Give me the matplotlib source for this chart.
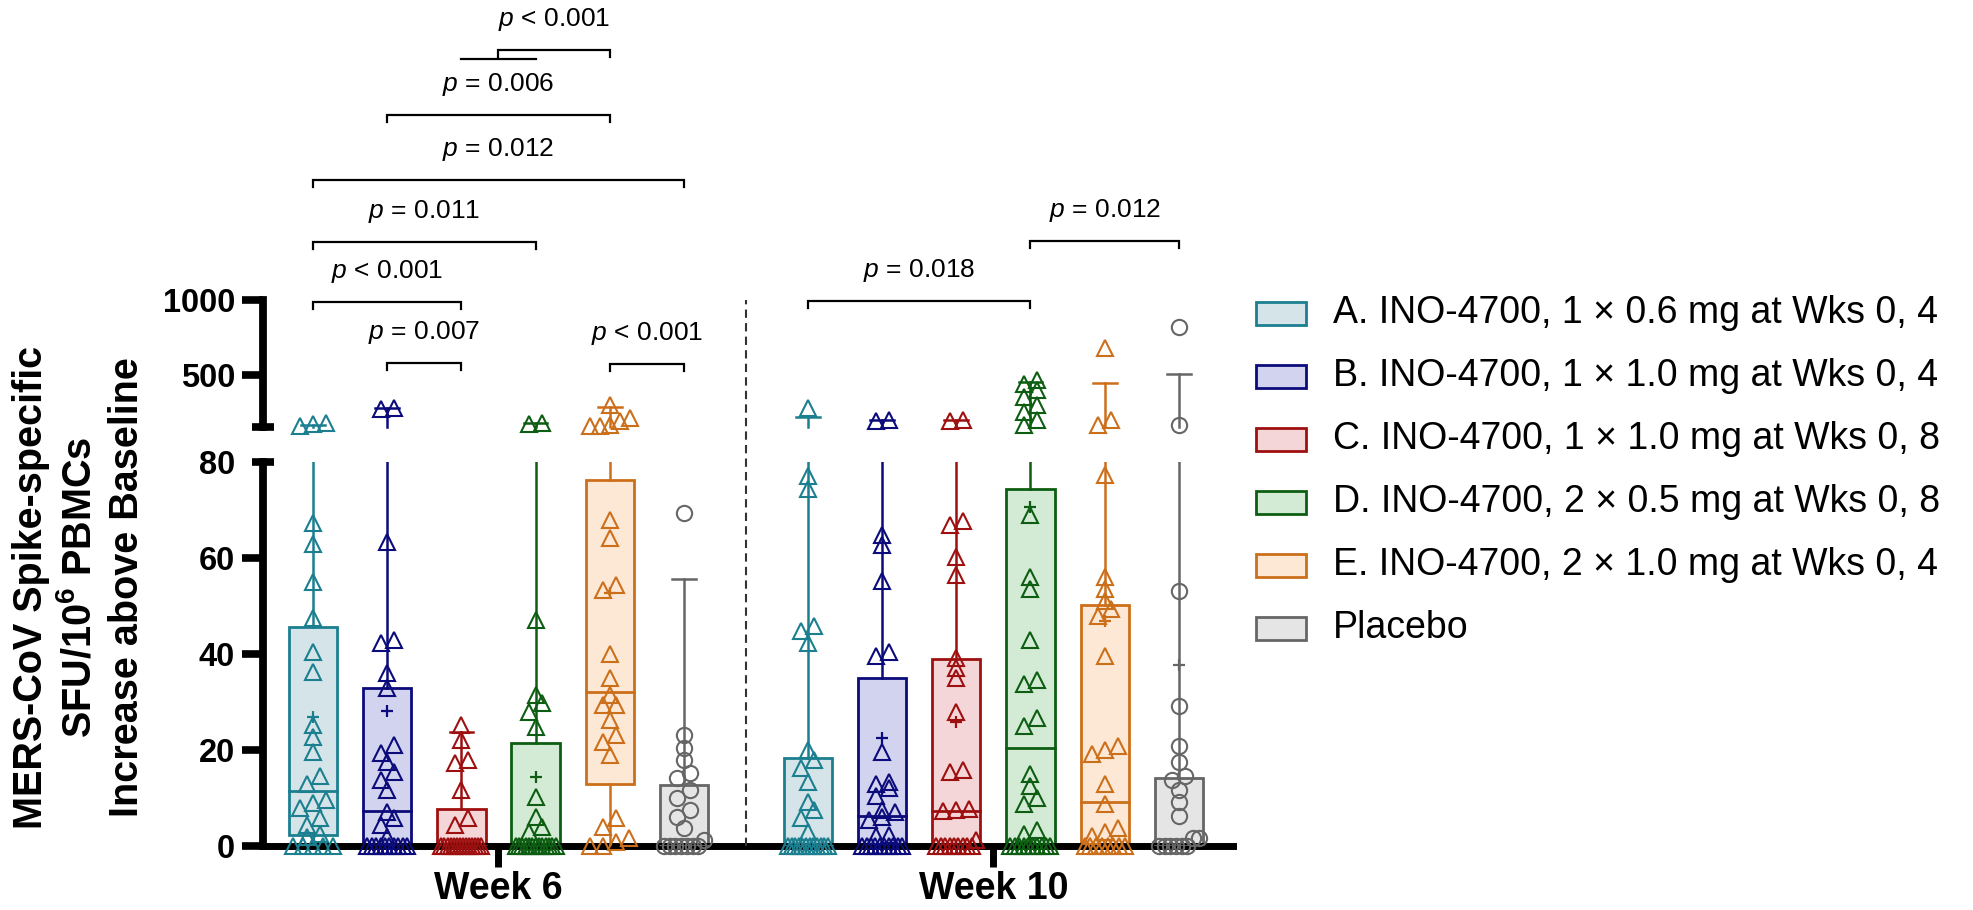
import matplotlib
matplotlib.use('Agg')
import matplotlib.pyplot as plt
from matplotlib.patches import Rectangle
from matplotlib.lines import Line2D
import numpy as np

plt.rcParams['font.family'] = ['Liberation Sans', 'DejaVu Sans']
plt.rcParams['mathtext.fontset'] = 'custom'
plt.rcParams['mathtext.rm'] = 'Liberation Sans'
plt.rcParams['mathtext.it'] = 'Liberation Sans:italic'
plt.rcParams['mathtext.bf'] = 'Liberation Sans:bold'

# groups / colours
groups = ['A. INO-4700, 1 × 0.6 mg at Wks 0, 4',
          'B. INO-4700, 1 × 1.0 mg at Wks 0, 4',
          'C. INO-4700, 1 × 1.0 mg at Wks 0, 8',
          'D. INO-4700, 2 × 0.5 mg at Wks 0, 8',
          'E. INO-4700, 2 × 1.0 mg at Wks 0, 4',
          'Placebo']
edge_colors = ['#1b7f90', '#0b0b7b', '#9e1010', '#0d5e12', '#cc6f1a', '#666666']
fill_colors = ['#d5e4e8', '#d2d3ef', '#f4d5d8', '#d3ebd5', '#fde8d5', '#e5e5e5']
markers = ['^', '^', '^', '^', '^', 'o']
weeks = ['Week 6', 'Week 10']

# individual responses, week 6
wk6_a = [175, 170, 160, 67.3, 62.9, 55.0, 47.5, 40.4, 36.3, 25.2, 22.7, 19.6, 14.6, 12.9,
         9.6, 9.0, 7.9, 5.8, 4.4, 2.6, 1.9, 0, 0, 0, 0, 0]
wk6_b = [275, 268, 63.3, 42.9, 42.3, 36.0, 33.0, 21.0, 19.4, 17.5, 15.4, 13.7, 11.7, 7.1,
         5.8, 4.4, 1.9] + [0] * 10
wk6_c = [25.2, 22.0, 17.9, 17.3, 11.7, 5.8, 4.4] + [0] * 14
wk6_d = [177, 172, 47.0, 31.5, 29.8, 28.0, 24.8, 10.2, 6.0, 4.0, 3.0] + [0] * 13
wk6_e = [300, 210, 190, 165, 160, 158, 67.9, 64.2, 54.4, 53.3, 40.0, 35.0, 31.5, 29.4, 29.4,
         26.3, 23.1, 21.7, 19.0, 5.8, 4.0, 1.7, 0.8, 0, 0]
wk6_p = [69.4, 23.1, 20.4, 17.9, 15.2, 14.2, 11.7, 10.0, 7.5, 6.0, 3.8, 1.3] + [0] * 7

# individual responses, week 10
wk10_a = [279, 77.1, 74.4, 45.9, 44.7, 42.2, 20.0, 17.9, 16.2, 13.3, 9.2, 7.5, 5.8, 2.9] + [0] * 12
wk10_b = [195, 188, 64.8, 62.7, 55.2, 40.4, 39.6, 19.6, 13.3, 12.9, 12.1, 10.4, 7.4, 7.1,
          6.0, 5.4, 2.3, 2.1] + [0] * 10
wk10_c = [195, 188, 67.7, 66.9, 60.2, 56.5, 39.2, 37.1, 35.0, 27.9, 15.8, 15.4, 7.8, 7.5,
          7.3, 1.3] + [0] * 9
wk10_d = [465, 440, 400, 350, 300, 250, 200, 165, 69.0, 56.0, 53.5, 43.0, 34.6, 33.8, 26.7,
          25.0, 15.0, 12.5, 10.0, 8.8, 3.3, 2.5] + [0] * 10
wk10_e = [679, 200, 165, 77.3, 56.0, 53.5, 51.0, 49.4, 48.0, 39.6, 20.8, 20.0, 19.2, 12.9,
          8.8, 3.8, 2.9, 2.1] + [0] * 8
wk10_p = [817, 166, 53.1, 29.2, 20.8, 17.5, 14.6, 13.7, 11.7, 9.2, 6.3, 1.7, 1.7] + [0] * 6

# box statistics (q1, median, q3, whisker top, mean)
wk6_q1 = [2.3, 0, 0, 0, 12.9, 0]
wk6_med = [11.5, 7.3, 0, 0, 32.1, 0]
wk6_q3 = [45.6, 33.0, 7.7, 21.5, 76.3, 12.7]
wk6_hi = [165, 280, 23.8, 180, 285, 55.6]
wk6_mean = [26.9, 28.2, None, 14.4, 52.7, None]

wk10_q1 = [0, 0, 0, 0, 0, 0]
wk10_med = [0, 6.3, 7.3, 20.4, 9.2, 0]
wk10_q3 = [18.3, 35.0, 39.0, 74.4, 50.3, 14.2]
wk10_hi = [220, 200, 200, 448, 445, 502]
wk10_mean = [None, 22.5, 25.8, 70.6, 46.8, 37.7]

week_data = [[wk6_a, wk6_b, wk6_c, wk6_d, wk6_e, wk6_p],
             [wk10_a, wk10_b, wk10_c, wk10_d, wk10_e, wk10_p]]
week_stats = [[wk6_q1, wk6_med, wk6_q3, wk6_hi, wk6_mean],
              [wk10_q1, wk10_med, wk10_q3, wk10_hi, wk10_mean]]

# significance brackets: (week, group from, group to, height on upper scale, label)
brackets = [(0, 0, 2, 987, '$p$ < 0.001'),
            (0, 1, 2, 578, '$p$ = 0.007'),
            (0, 0, 3, 1388, '$p$ = 0.011'),
            (0, 0, 5, 1803, '$p$ = 0.012'),
            (0, 1, 4, 2238, '$p$ = 0.006'),
            (0, 2.5, 4, 2673, '$p$ < 0.001'),
            (0, 2, 3, 2613, None),
            (0, 4, 5, 572, '$p$ < 0.001'),
            (1, 0, 3, 993, '$p$ = 0.018'),
            (1, 3, 5, 1395, '$p$ = 0.012')]

week_start = [0, 6.67]
BREAK_LO, BREAK_HI = 80, 150

W, H = 1974, 910
fig = plt.figure(figsize=(W / 100, H / 100), dpi=100)
ax_lo = fig.add_axes([263 / W, (H - 846) / H, 970 / W, 384 / H])
ax_up = fig.add_axes([263 / W, (H - 427) / H, 970 / W, 127 / H], sharex=ax_lo)
for ax in (ax_lo, ax_up):
    ax.patch.set_visible(False)
    ax.spines['top'].set_visible(False)
    ax.spines['right'].set_visible(False)
    ax.spines['left'].set_linewidth(5.6)
    ax.spines['left'].set_capstyle('projecting')
ax_up.spines['bottom'].set_visible(False)
ax_lo.spines['bottom'].set_linewidth(5.0)
ax_lo.spines['bottom'].set_capstyle('projecting')

ax_lo.set_xlim(-0.674, 12.40)
ax_lo.set_ylim(0, BREAK_LO)
ax_up.set_ylim(BREAK_HI, 1000)

ax_lo.set_yticks([0, 20, 40, 60], ['0', '20', '40', '60'])
ax_lo.set_yticks([BREAK_LO], ['80'], minor=True)
ax_up.set_yticks([500, 1000], ['500', '1000'])
ax_up.set_yticks([BREAK_HI], [''], minor=True)
for ax in (ax_lo, ax_up):
    ax.tick_params(axis='y', which='major', direction='out', length=15, width=5.5,
                   labelsize=23.5, pad=5)
    ax.tick_params(axis='y', which='minor', direction='inout', length=16.5, width=5.5,
                   labelsize=23.5, pad=12)
    for lbl in ax.get_yticklabels(which='both'):
        lbl.set_fontweight('bold')
ax_up.tick_params(axis='x', which='both', bottom=False, labelbottom=False)

centers = [week_start[w] + 2.5 for w in range(2)]
ax_lo.set_xticks(centers, weeks)
ax_lo.tick_params(axis='x', direction='out', length=15, width=5, labelsize=27, pad=3)
for lbl in ax_lo.get_xticklabels():
    lbl.set_fontweight('bold')

bw = 0.65
cap = 0.32
px_per_x = ax_lo.transData.transform((1, 0))[0] - ax_lo.transData.transform((0, 0))[0]


def screen_y(v):
    ax = ax_lo if v <= BREAK_LO else ax_up
    return ax.transData.transform((0, v))[1]


def swarm_offsets(vals):
    ys = np.array([screen_y(v) for v in vals])
    order = np.argsort(ys)
    offs = np.zeros(len(vals))
    clusters, cur = [], [order[0]]
    for idx in order[1:]:
        if ys[idx] - ys[cur[0]] < 9:
            cur.append(idx)
        else:
            clusters.append(cur)
            cur = [idx]
    clusters.append(cur)
    for cl in clusters:
        n = len(cl)
        if n == 1:
            continue
        step = min(13.0, 40.0 / (n - 1))
        for k, idx in enumerate(cl):
            offs[idx] = (k - (n - 1) / 2) * step / px_per_x
    return offs


for w in range(2):
    q1s, meds, q3s, his, means = week_stats[w]
    for g in range(6):
        pos = week_start[w] + g
        ec, fc = edge_colors[g], fill_colors[g]
        ax_lo.add_patch(Rectangle((pos - bw / 2, q1s[g]), bw, q3s[g] - q1s[g],
                                  facecolor=fc, edgecolor=ec, lw=2.0, zorder=2))
        ax_lo.plot([pos - bw / 2, pos + bw / 2], [meds[g], meds[g]], color=ec, lw=2.0, zorder=3)
        # whiskers
        if q1s[g] > 0:
            ax_lo.plot([pos, pos], [0, q1s[g]], color=ec, lw=1.8, zorder=3)
        hi = his[g]
        if hi <= BREAK_LO:
            ax_lo.plot([pos, pos], [q3s[g], hi], color=ec, lw=1.8, zorder=3)
            ax_lo.plot([pos - cap / 2, pos + cap / 2], [hi, hi], color=ec, lw=1.8, zorder=3)
        else:
            ax_lo.plot([pos, pos], [q3s[g], BREAK_LO], color=ec, lw=1.8, zorder=3)
            ax_up.plot([pos, pos], [BREAK_HI, hi], color=ec, lw=1.8, zorder=3, clip_on=False)
            ax_up.plot([pos - cap / 2, pos + cap / 2], [hi, hi], color=ec, lw=1.8, zorder=3,
                       clip_on=False)
        if means[g] is not None:
            ax_lo.plot(pos, means[g], marker='+', ms=9, mew=1.6, color=ec, zorder=4)
        # individual points
        vals = np.array(week_data[w][g], dtype=float)
        offs = swarm_offsets(vals)
        lo = vals <= BREAK_LO
        ms = 11.5 if markers[g] == '^' else 11
        ax_lo.plot(pos + offs[lo], vals[lo], ls='none', marker=markers[g], ms=ms,
                   mfc='none', mec=ec, mew=1.5, zorder=5, clip_on=False)
        ax_up.plot(pos + offs[~lo], vals[~lo], ls='none', marker=markers[g], ms=ms,
                   mfc='none', mec=ec, mew=1.5, zorder=5, clip_on=False)

# dashed separator between the weeks
sep = (week_start[0] + 5 + week_start[1]) / 2
p_top = ax_up.transData.transform((sep, 1000))
p_bot = ax_lo.transData.transform((sep, 0))
f_top = fig.transFigure.inverted().transform(p_top)
f_bot = fig.transFigure.inverted().transform(p_bot)
fig.add_artist(Line2D([f_bot[0], f_top[0]], [f_bot[1], f_top[1]], transform=fig.transFigure,
                      color='#333333', lw=1.5, dashes=(4, 2.5)))

# significance brackets
up_per_px = (1000 - BREAK_HI) / ax_up.get_window_extent().height
tick = 7 * up_per_px
for w, g1, g2, level, label in brackets:
    x1, x2 = week_start[w] + g1, week_start[w] + g2
    if label is None:
        ax_up.plot([x1, x2], [level, level], color='black', lw=1.6, clip_on=False)
        continue
    ax_up.plot([x1, x1, x2, x2], [level - tick, level, level, level - tick],
               color='black', lw=1.6, clip_on=False, solid_joinstyle='miter')
    ax_up.annotate(label, xy=((x1 + x2) / 2, level), xytext=(0, 12), textcoords='offset points',
                   ha='center', va='bottom', fontsize=19, annotation_clip=False)

# y-axis title
fig.text(79 / W, 1 - 587 / H,
         'MERS-CoV Spike-specific\nSFU/10$^{\\mathbf{6}}$ PBMCs\nIncrease above Baseline',
         rotation=90, ha='center', va='center', fontsize=28.5, fontweight='bold',
         linespacing=1.3, multialignment='center')

# legend
for i, name in enumerate(groups):
    yc = 313 + 63 * i
    fig.add_artist(Rectangle((1256 / W, 1 - (yc + 11.5) / H), 50 / W, 23 / H,
                             transform=fig.transFigure, facecolor=fill_colors[i],
                             edgecolor=edge_colors[i], lw=2.0))
    fig.text(1333 / W, 1 - yc / H, name, ha='left', va='center', fontsize=27)

fig.savefig('out.png', dpi=100)
